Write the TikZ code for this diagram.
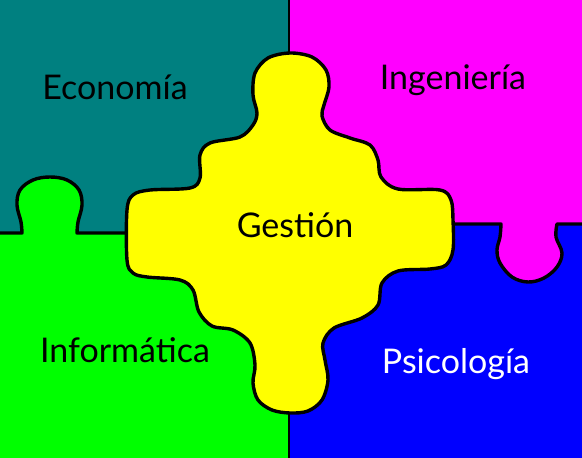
\documentclass[tikz,border=0pt]{standalone}
\usepackage{fontspec}
\setmainfont{Lato}
\definecolor{cteal}{RGB}{0,128,128}
\definecolor{cmag}{RGB}{255,0,255}
\definecolor{cgreen}{RGB}{0,255,0}
\definecolor{cblue}{RGB}{0,0,255}
\definecolor{cyel}{RGB}{255,255,0}
\begin{document}
\begin{tikzpicture}[x=1pt,y=-1pt,
  outl/.style={line width=3.4pt, line join=round, line cap=round},
  lbl/.style={font=\fontsize{34}{38}\selectfont, anchor=base, inner sep=0pt}]
\useasboundingbox (0,0) rectangle (582,458);
% quadrants
\fill[cteal] (0,0) rectangle (289,233);
\fill[cmag] (289,0) rectangle (582,300);
\fill[cgreen] (0,233) -- (22,233) -- plot[smooth,tension=0.6] coordinates {(22,233) (21,222) (17,205) (20,190) (33,180) (50,177) (67,180) (79,190) (82,205) (78,222) (77,233)} -- (289,233) -- (289,458) -- (0,458) -- cycle;
\fill[cblue] (289,458) -- (289,224) -- (501,224) -- plot[smooth,tension=0.6] coordinates {(501,224) (500,237) (497,250) (500,263) (512,277) (528,282) (544,278) (557,267) (562,253) (556,237) (557,224)} -- (582,224) -- (582,458) -- cycle;
% boundaries
\draw[outl] (0,233) -- (22,233) -- plot[smooth,tension=0.6] coordinates {(22,233) (21,222) (17,205) (20,190) (33,180) (50,177) (67,180) (79,190) (82,205) (78,222) (77,233)} -- (140,233);
\draw[outl] (440,224) -- (501,224) -- plot[smooth,tension=0.6] coordinates {(501,224) (500,237) (497,250) (500,263) (512,277) (528,282) (544,278) (557,267) (562,253) (556,237) (557,224)} -- (582,224);
\draw[line width=2.6pt] (289,0) -- (289,70);
\draw[line width=2.6pt] (289,400) -- (289,458);
% central piece
\filldraw[outl, fill=cyel] plot[smooth cycle,tension=0.55] coordinates {
(290,53) (312,57) (326,70) (329,87) (324,105) (322,116) (330,130) (350,138)
(370,145) (378,160) (381,177) (398,189) (440,190) (451,200) (453,220)
(453,250) (446,265) (430,269) (398,271) (382,283) (378,305) (362,318)
(334,328) (323,343) (325,360) (328,380) (322,400) (308,411) (290,413)
(272,410) (258,400) (253,383) (255,365) (250,343) (233,330) (212,326)
(199,312) (193,290) (180,280) (147,277) (133,273) (127,260) (127,210)
(133,195) (150,190) (190,188) (200,178) (200,155) (210,143) (240,137)
(253,125) (257,113) (253,95) (255,73) (268,58)};
% labels
\node[lbl] (eco) at (115,99) {Economía};
\node[lbl] (ing) at (453,89) {Ingeniería};
\node[lbl] (inf) at (125,362) {Informática};
\node[lbl, text=white] (psi) at (456,373) {Psicología};
\node[lbl] (ges) at (295,237) {Gestión};
\end{tikzpicture}
\end{document}
